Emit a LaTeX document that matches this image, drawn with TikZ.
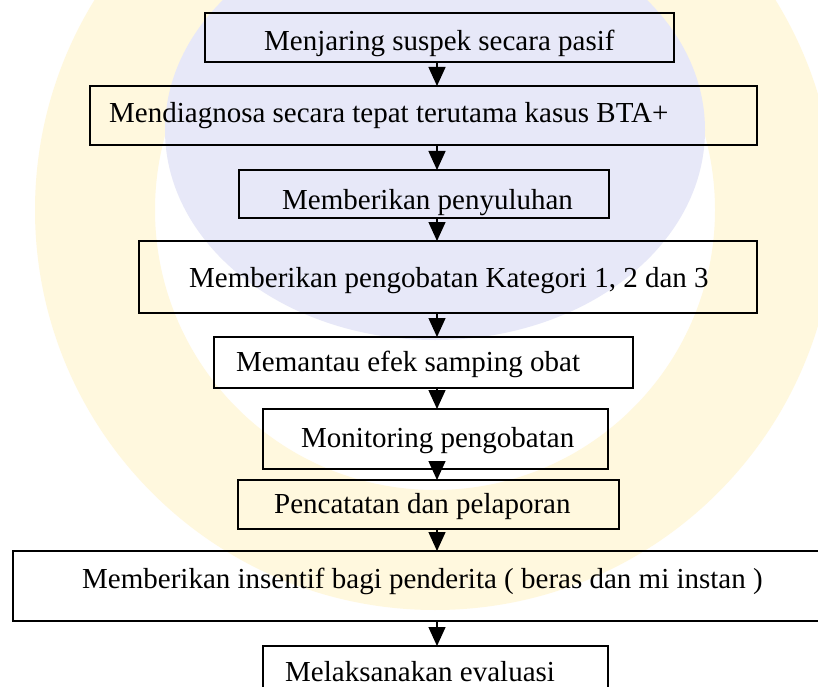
\documentclass[tikz,border=0pt]{standalone}
\usepackage{fontspec}
\setmainfont{Liberation Serif}
\usetikzlibrary{arrows.meta}
\definecolor{markyellow}{HTML}{FFF8DE}
\definecolor{markblue}{HTML}{E7E8F8}
\begin{document}
\begin{tikzpicture}[x=1bp,y=-1bp,
  stepbox/.style={draw=black, line width=1.3bp, fill=none, inner sep=0pt, outer sep=0pt},
  steptext/.style={anchor=base west, inner sep=0pt, font=\fontsize{29bp}{32bp}\selectfont},
  flow/.style={draw=black, line width=1.4bp, -{Triangle[length=19bp,width=17bp]}}]
\useasboundingbox (0,0) rectangle (818,687);
\clip (0,0) rectangle (818,687);
\fill[white] (0,0) rectangle (818,687);

% faint emblem in the background
\fill[markyellow, even odd rule] (435,210) circle[radius=400] (435,210) circle[radius=280];
\fill[markblue] (435,130) ellipse[x radius=270, y radius=210];

% boxes
\node[stepbox, minimum width=469bp, minimum height=49bp] (b1) at (439.5,37.5) {};
\node[stepbox, minimum width=667bp, minimum height=59bp] (b2) at (423.5,115.5) {};
\node[stepbox, minimum width=370bp, minimum height=48bp] (b3) at (424,194) {};
\node[stepbox, minimum width=618bp, minimum height=72bp] (b4) at (448,277) {};
\node[stepbox, minimum width=419bp, minimum height=51bp] (b5) at (423.5,362.5) {};
\node[stepbox, minimum width=345bp, minimum height=60bp] (b6) at (435.5,439) {};
\node[stepbox, minimum width=381bp, minimum height=49bp] (b7) at (428.5,504.5) {};
\node[stepbox, minimum width=820bp, minimum height=70bp] (b8) at (423,586) {};
\node[stepbox, minimum width=345bp, minimum height=60bp] (b9) at (435.5,676) {};

% labels
\node[steptext] (t1) at (264,51) {Menjaring suspek secara pasif};
\node[steptext] (t2) at (109,123) {Mendiagnosa secara tepat terutama kasus BTA+};
\node[steptext] (t3) at (282,209) {Memberikan penyuluhan};
\node[steptext] (t4) at (189,287) {Memberikan pengobatan Kategori 1, 2 dan 3};
\node[steptext] (t5) at (236,371) {Memantau efek samping obat};
\node[steptext] (t6) at (301,447) {Monitoring pengobatan};
\node[steptext] (t7) at (274,513) {Pencatatan dan pelaporan};
\node[steptext] (t8) at (82,588) {Memberikan insentif bagi penderita ( beras dan mi instan )};
\node[steptext] (t9) at (285,681) {Melaksanakan evaluasi};

% connectors
\coordinate (ax) at (437,0);
\draw[flow] (b1.south -| ax) -- (b2.north -| ax);
\draw[flow] (b2.south -| ax) -- (b3.north -| ax);
\draw[flow] (b3.south -| ax) -- (b4.north -| ax);
\draw[flow] (b4.south -| ax) -- (b5.north -| ax);
\draw[flow] (b5.south -| ax) -- (b6.north -| ax);
\draw[flow] (b6.south -| ax) -- (b7.north -| ax);
\draw[flow] (b7.south -| ax) -- (b8.north -| ax);
\draw[flow] (b8.south -| ax) -- (b9.north -| ax);
\end{tikzpicture}
\end{document}
